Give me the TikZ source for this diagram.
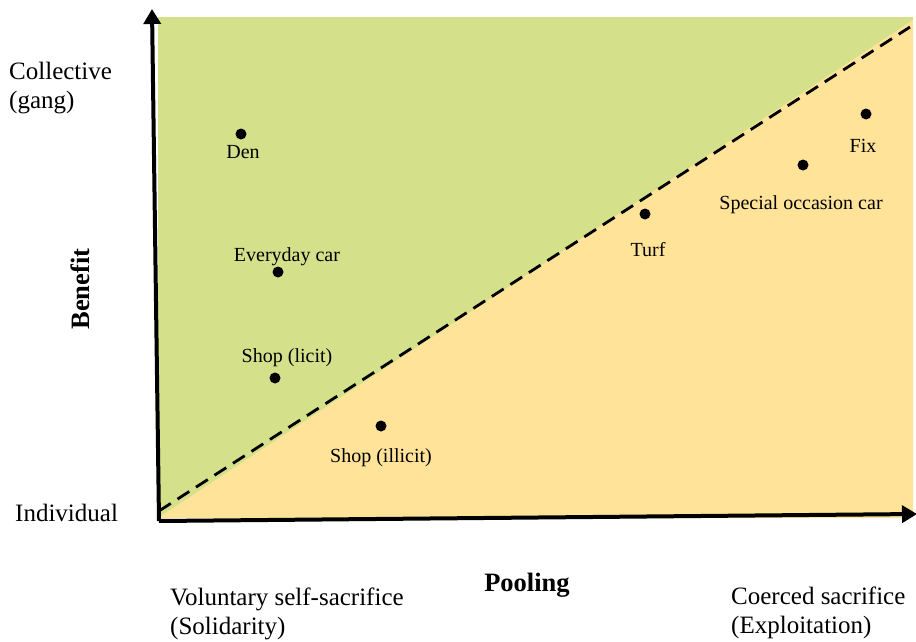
\documentclass[tikz,border=0pt]{standalone}
\usepackage{fontspec}
\setmainfont{Liberation Serif}
\usetikzlibrary{arrows.meta}
\definecolor{bggreen}{HTML}{D5E08A}
\definecolor{bgorange}{HTML}{FFE399}
\tikzset{
  dot/.style={circle,fill=black,inner sep=0pt,minimum size=11pt},
  ptlabel/.style={anchor=base,inner sep=0pt,font=\fontsize{20}{24}\selectfont},
  axlabel/.style={anchor=base west,inner sep=0pt,align=left,font=\fontsize{25}{29}\selectfont},
  axtitle/.style={inner sep=0pt,font=\fontsize{26.5}{30}\selectfont\bfseries},
  axis/.style={line width=4pt,-{Triangle[length=15pt,width=17pt]}},
  divide/.style={line width=2.8pt,dash pattern=on 14pt off 8pt}
}
\begin{document}
\begin{tikzpicture}[x=1pt,y=-1pt]
\useasboundingbox (0,0) rectangle (916,642);
% regions
\fill[bggreen] (158,17) rectangle (913,518);
\fill[bgorange] (158,518) -- (913,20) -- (913,518) -- cycle;
% divider
\coordinate (d0) at (159,511);
\coordinate (d1) at (910,27);
\draw[divide] (d0) -- (d1);
% axes
\coordinate (o) at (159,521);
\coordinate (ytop) at (152,9);
\coordinate (xend) at (917,514);
\draw[axis] (o) -- (ytop);
\draw[axis] (o) -- (xend);
% points
\node[dot] (den) at (241,134) {};
\node[dot] (car) at (278,272) {};
\node[dot] (licit) at (275,378) {};
\node[dot] (illicit) at (381,426) {};
\node[dot] (turf) at (645,214) {};
\node[dot] (special) at (803,165) {};
\node[dot] (fix) at (866,114) {};
\node[ptlabel] (denl) at (243,158) {Den};
\node[ptlabel] (carl) at (287,261) {Everyday car};
\node[ptlabel] (licitl) at (287,362) {Shop (licit)};
\node[ptlabel] (illicitl) at (381,462) {Shop (illicit)};
\node[ptlabel] (turfl) at (648,256) {Turf};
\node[ptlabel] (speciall) at (801,209) {Special occasion car};
\node[ptlabel] (fixl) at (863,152) {Fix};
% axis labels
\node[axlabel] (coll) at (9,109) {Collective\\(gang)};
\node[axlabel] (indiv) at (15,521) {Individual};
\node[axlabel] (vol) at (170,634) {Voluntary self-sacrifice\\(Solidarity)};
\node[axlabel] (coer) at (731,633) {Coerced sacrifice\\(Exploitation)};
\node[axtitle,rotate=90] (benefit) at (80,289) {Benefit};
\node[axtitle,anchor=base] (pooling) at (527,591) {Pooling};
\end{tikzpicture}
\end{document}
